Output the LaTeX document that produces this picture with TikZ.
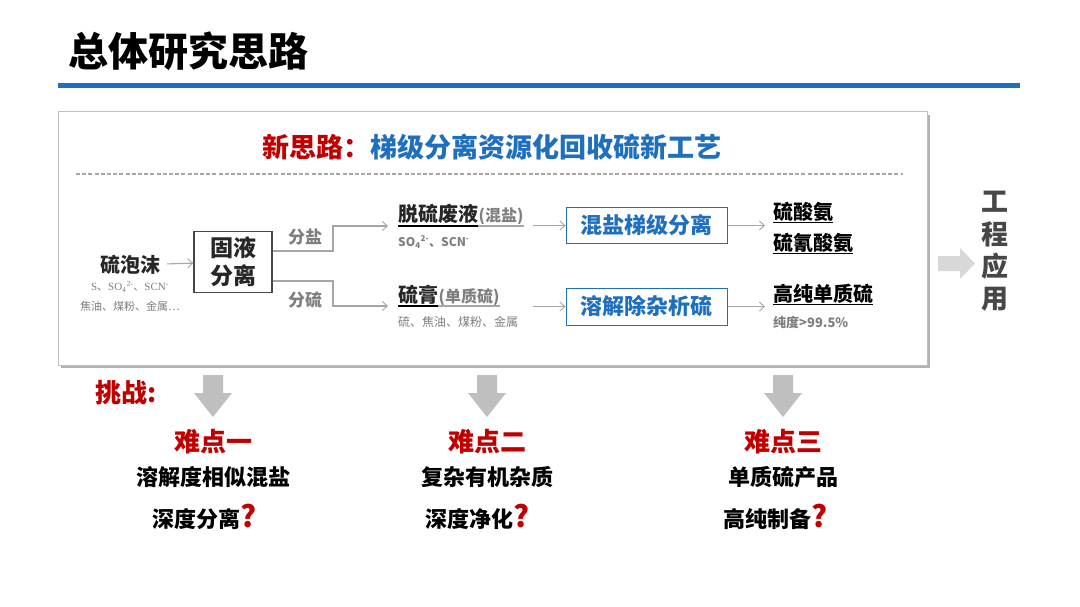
\documentclass[tikz,border=0pt]{standalone}
\usepackage{fontspec}
\setmainfont{Noto Sans CJK SC}
\newfontfamily\latinserif{Liberation Serif}
\usetikzlibrary{arrows.meta,calc}
\definecolor{myred}{HTML}{C00000}
\definecolor{myblue}{HTML}{1F6FBF}
\definecolor{tgray}{HTML}{7F7F7F}
\definecolor{lgray}{HTML}{A6A6A6}
\definecolor{agray}{HTML}{BFBFBF}
\definecolor{dark}{HTML}{262626}
\newcommand\myfs[1]{\fontsize{#1}{#1}\selectfont}
\tikzset{
  conn/.style={draw=lgray, line width=1.1, -{Straight Barb[length=5pt,width=9pt,line width=0.9]}},
  branch/.style={draw=lgray, line width=1.1},
  bluebox/.style={draw=myblue, line width=1, minimum width=161, minimum height=36, inner sep=0,
    font=\bfseries\myfs{22}, text=myblue},
  lbl/.style={inner sep=0, font=\bfseries\myfs{17}, text=tgray},
  mainitem/.style={inner sep=0, font=\bfseries\myfs{20}, text=dark},
  subitem/.style={inner sep=0, font=\bfseries\myfs{16}, text=tgray},
  note/.style={inner sep=0, font=\myfs{12}, text=tgray},
  hard/.style={inner sep=0, font=\bfseries\myfs{26}, text=myred},
  desc/.style={inner sep=0, font=\bfseries\myfs{22}, text=black},
  downarrow/.style={fill=agray},
}
\begin{document}
\begin{tikzpicture}[x=1pt,y=-1pt]
\useasboundingbox (0,0) rectangle (1080,607);
\fill[white] (0,0) rectangle (1080,607);

% title
\node[anchor=west, inner sep=0, font=\bfseries\myfs{40}, text=black] (title) at (68,51) {总体研究思路};
\draw[myblue, line width=5] (58,86) -- (1020,86);

% main frame with shadow
\fill[black!30] (61,115) rectangle (930,368);
\draw[fill=white, draw=agray, line width=1] (58,112) rectangle (927,365);

% heading
\node[inner sep=0, font=\bfseries\myfs{27}] (head) at (492,147)
  {\textcolor{myred}{新思路：}\textcolor{myblue}{梯级分离资源化回收硫新工艺}};
\draw[lgray, line width=1.2, dash pattern=on 4pt off 2.2pt] (76,174) -- (903,174);

% source
\node[font=\bfseries\myfs{20}, text=dark, inner xsep=7, inner ysep=0] (foam) at (130,265) {硫泡沫};
\node[inner sep=0, font=\myfs{11}, text=tgray] (foam1) at (130,287)
  {{\latinserif S}、{\latinserif SO\textsubscript{4}\textsuperscript{2-}}、{\latinserif SCN\textsuperscript{-}}};
\node[inner sep=0, font=\myfs{11}, text=tgray] (foam2) at (130,306) {焦油、煤粉、金属…};

% solid-liquid separation
\node[draw=dark!85, line width=1.2, minimum width=78, minimum height=61, inner sep=0,
  align=center, font=\bfseries\fontsize{23}{28}\selectfont, text=dark] (sl) at (233,262) {固液\\分离};
\draw[conn] (foam) -- (sl);

\coordinate (j1) at (333,251);
\coordinate (j2) at (333,281);
\node[lbl] (fy) at (305,237) {分盐};
\node[lbl] (fl) at (305,300) {分硫};

% upper branch
\node[mainitem, anchor=base west] (tl) at (398,222) {脱硫废液};
\node[subitem, anchor=base west] (tlp) at (tl.base east) {(混盐)};
\draw[black, line width=1.2] ([yshift=-4pt]tl.base west) -- ([yshift=-4pt]tl.base east);
\draw[tgray!70, line width=1.2] ([yshift=-4pt]tlp.base west) -- ([yshift=-4pt]tlp.base east);
\node[inner sep=0, font=\bfseries\myfs{12}, text=tgray, anchor=west] (tls) at (398,242)
  {SO\textsubscript{4}\textsuperscript{2-}、SCN\textsuperscript{-}};
\draw[conn] (sl.east |- j1) -- (j1) |- ([xshift=-10pt,yshift=-4pt]tl.base west);

\node[bluebox] (mx) at (646.5,225.5) {混盐梯级分离};
\draw[conn] ([xshift=-33pt]mx.west) -- (mx.west);

\node[anchor=west, inner xsep=8, inner ysep=0, align=left, font=\bfseries\fontsize{20}{31}\selectfont, text=black] (p1) at (765,228)
  {\underline{硫酸氨}\\\underline{硫氰酸氨}};
\draw[conn] (mx.east) -- (mx.east -| p1.west);

% lower branch
\node[mainitem, anchor=base west] (sg) at (398,302) {硫膏};
\node[subitem, anchor=base west] (sgp) at (sg.base east) {(单质硫)};
\draw[black, line width=1.2] ([yshift=-4pt]sg.base west) -- ([yshift=-4pt]sg.base east);
\draw[tgray!70, line width=1.2] ([yshift=-4pt]sgp.base west) -- ([yshift=-4pt]sgp.base east);
\node[note, anchor=west] (sgs) at (398,322) {硫、焦油、煤粉、金属};
\draw[conn] (sl.east |- j2) -- (j2) |- ([xshift=-10pt,yshift=-4pt]sg.base west);

\node[bluebox, minimum height=37] (rj) at (646.5,306.5) {溶解除杂析硫};
\draw[conn] ([xshift=-33pt]rj.west) -- (rj.west);

\node[inner sep=0, anchor=base west, font=\bfseries\myfs{20}, text=black] (p2) at (773,301) {\underline{高纯单质硫}};
\node[inner sep=0, anchor=west, font=\bfseries\myfs{13}, text=tgray] (p2s) at (773,322) {纯度>99.5\%};
\draw[conn] (rj.east) -- ([xshift=-8pt]rj.east -| p2.west);

% engineering application
\fill[agray!60] (938,256) -- (960,256) -- (960,248) -- (975,263.5) -- (960,279) -- (960,271) -- (938,271) -- cycle;
\node[inner sep=0, align=center, font=\bfseries\fontsize{27}{32.3}\selectfont, text=dark!85] (gc) at (995,251.5) {工\\程\\应\\用};

% challenges
\node[hard, anchor=west] (tz) at (95,393) {挑战:};

\foreach \c in {213,487,783}{
  \fill[downarrow] (\c-10,375) -- (\c+10,375) -- (\c+10,393) -- (\c+19,393) -- (\c,417) -- (\c-19,393) -- (\c-10,393) -- cycle;
}

\node[hard] (d1) at (213,442) {难点一};
\node[desc] (d1a) at (213,477) {溶解度相似混盐};
\node[desc] (d1b) at (205,517) {深度分离\textcolor{myred}{\myfs{30}?}};

\node[hard] (d2) at (487,442) {难点二};
\node[desc] (d2a) at (487,477) {复杂有机杂质};
\node[desc] (d2b) at (478,517) {深度净化\textcolor{myred}{\myfs{30}?}};

\node[hard] (d3) at (783,442) {难点三};
\node[desc] (d3a) at (783,477) {单质硫产品};
\node[desc] (d3b) at (776,517) {高纯制备\textcolor{myred}{\myfs{30}?}};
\end{tikzpicture}
\end{document}
